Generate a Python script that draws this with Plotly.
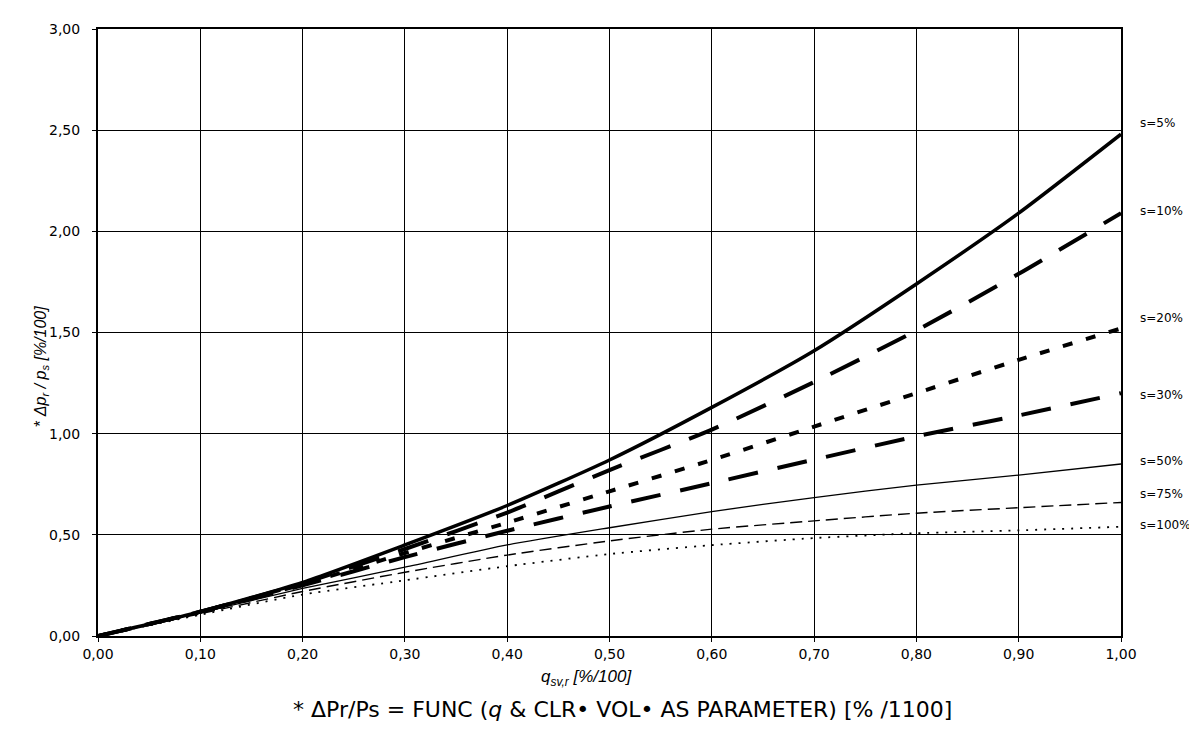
import plotly.graph_objects as go

# Datos
q = [0.0, 0.1, 0.2, 0.3, 0.4, 0.5, 0.6, 0.7, 0.8, 0.9, 1.0]
s5 = [0, 0.12, 0.265, 0.45, 0.645, 0.87, 1.13, 1.41, 1.74, 2.09, 2.48]
s10 = [0, 0.12, 0.26, 0.43, 0.61, 0.82, 1.02, 1.255, 1.51, 1.79, 2.09]
s20 = [0, 0.12, 0.255, 0.41, 0.56, 0.715, 0.87, 1.035, 1.20, 1.365, 1.52]
s30 = [0, 0.12, 0.25, 0.39, 0.52, 0.64, 0.755, 0.872, 0.987, 1.09, 1.20]
s50 = [0, 0.115, 0.235, 0.34, 0.45, 0.535, 0.615, 0.684, 0.746, 0.795, 0.85]
s75 = [0, 0.11, 0.22, 0.315, 0.40, 0.47, 0.528, 0.569, 0.607, 0.634, 0.66]
s100 = [0, 0.105, 0.205, 0.275, 0.345, 0.405, 0.449, 0.484, 0.508, 0.522, 0.54]
labels = ["s=5%", "s=10%", "s=20%", "s=30%", "s=50%", "s=75%", "s=100%"]

series = [s5, s10, s20, s30, s50, s75, s100]
styles = [
    dict(width=3.5, dash="solid"),
    dict(width=4, dash="32px,20px"),
    dict(width=4, dash="10px,14px"),
    dict(width=4, dash="30px,20px"),
    dict(width=1.3, dash="solid"),
    dict(width=1.4, dash="12px,6px"),
    dict(width=1.8, dash="2px,7px"),
]
# desplazamiento vertical de cada etiqueta (px)
label_shift = [11, 2, 10, -2, 3, 8, 2]

ARIAL = "Arial, Liberation Sans, sans-serif"
WIDE = "DejaVu Sans, Arial, sans-serif"

fig = go.Figure()
for ys, st, name in zip(series, styles, labels):
    fig.add_trace(go.Scatter(x=q, y=ys, mode="lines", name=name, showlegend=False,
                             line=dict(color="black", shape="spline", smoothing=0.6, **st)))

# Etiquetas a la derecha
for ys, name, sh in zip(series, labels, label_shift):
    fig.add_annotation(x=q[-1], y=ys[-1], xref="x", yref="y", text=name, showarrow=False,
                       xanchor="left", yanchor="middle", xshift=17, yshift=sh,
                       font=dict(family=WIDE, size=12, color="black"))

fig.add_annotation(x=-0.066, y=0.445, xref="paper", yref="paper", textangle=-90, showarrow=False,
                   text="* <i>\u0394p<sub>r</sub> / p<sub>s</sub> [%/100]</i>",
                   font=dict(family=ARIAL, size=16, color="black"))
fig.add_annotation(x=0.478, y=-0.09, xref="paper", yref="paper", showarrow=False,
                   text="<i>q<sub>sv,r</sub> [%/100]</i>",
                   font=dict(family=ARIAL, size=17, color="black"))
fig.add_annotation(x=0.513, y=-0.145, xref="paper", yref="paper", showarrow=False,
                   text="* \u0394Pr/Ps = FUNC (<i>q</i> & CLR\u2022 VOL\u2022 AS PARAMETER) [% /1100]",
                   font=dict(family=WIDE, size=22, color="black"))

axis_common = dict(showgrid=True, gridcolor="black", gridwidth=1, showline=True, mirror=True,
                   linecolor="black", linewidth=2, ticks="outside", ticklen=4, tickcolor="black",
                   tickformat=".2f", zeroline=False,
                   tickfont=dict(family=WIDE, size=14, color="black"))

fig.update_layout(
    width=1197, height=729,
    margin=dict(l=90, r=84, t=21, b=101),
    plot_bgcolor="white", paper_bgcolor="white",
    separators=",.",
    xaxis=dict(range=[0, 1], dtick=0.1, **axis_common),
    yaxis=dict(range=[0, 3], dtick=0.5, ticklabelstandoff=9, **axis_common),
)

fig.write_html("out.html")
